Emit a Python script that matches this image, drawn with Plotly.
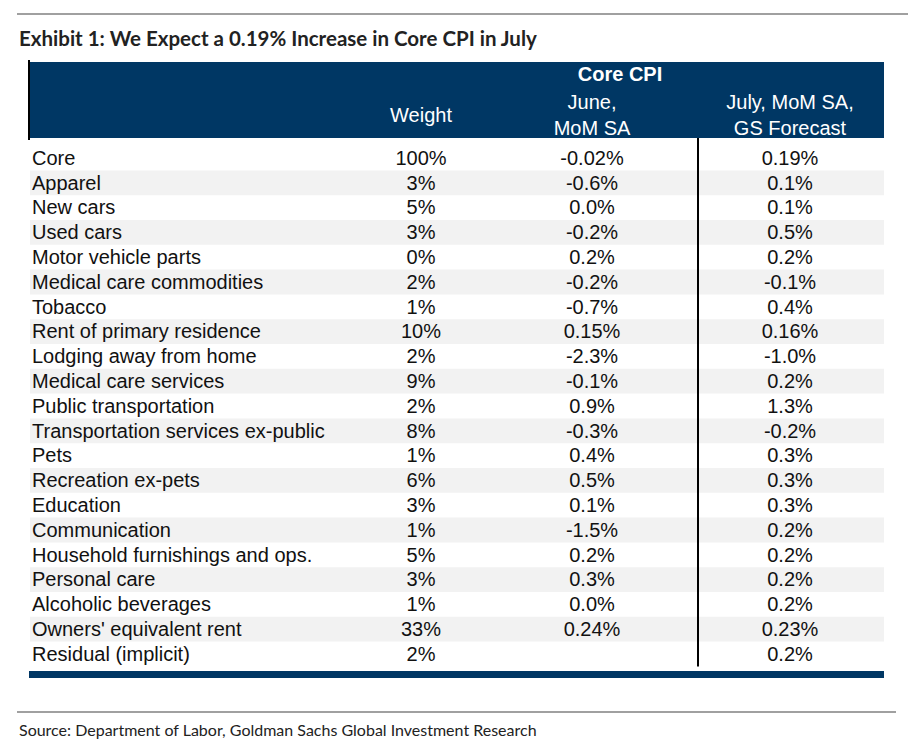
import plotly.graph_objects as go

# Table content
categories = [
    "Core",
    "Apparel",
    "New cars",
    "Used cars",
    "Motor vehicle parts",
    "Medical care commodities",
    "Tobacco",
    "Rent of primary residence",
    "Lodging away from home",
    "Medical care services",
    "Public transportation",
    "Transportation services ex-public",
    "Pets",
    "Recreation ex-pets",
    "Education",
    "Communication",
    "Household furnishings and ops.",
    "Personal care",
    "Alcoholic beverages",
    "Owners' equivalent rent",
    "Residual (implicit)",
]
weights = ["100%", "3%", "5%", "3%", "0%", "2%", "1%", "10%", "2%", "9%", "2%",
           "8%", "1%", "6%", "3%", "1%", "5%", "3%", "1%", "33%", "2%"]
june_mom = ["-0.02%", "-0.6%", "0.0%", "-0.2%", "0.2%", "-0.2%", "-0.7%", "0.15%",
            "-2.3%", "-0.1%", "0.9%", "-0.3%", "0.4%", "0.5%", "0.1%", "-1.5%",
            "0.2%", "0.3%", "0.0%", "0.24%", ""]
july_forecast = ["0.19%", "0.1%", "0.1%", "0.5%", "0.2%", "-0.1%", "0.4%", "0.16%",
                 "-1.0%", "0.2%", "1.3%", "-0.2%", "0.3%", "0.3%", "0.3%", "0.2%",
                 "0.2%", "0.2%", "0.2%", "0.23%", "0.2%"]

group_header = "Core CPI"
col_headers = ["Weight", "June,<br>MoM SA", "July, MoM SA,<br>GS Forecast"]

TITLE = "Exhibit 1: We Expect a 0.19% Increase in Core CPI in July"
SOURCE = "Source: Department of Labor, Goldman Sachs Global Investment Research"

# Layout constants. The page body has an 8px margin, so the figure is made
# smaller by that much and the x axis is set up in page pixels.
PAGE_W, PAGE_H = 919, 749
PAD = 8
W, H = PAGE_W - PAD, PAGE_H - PAD
FIRST_ROW_PX = 158
ROW_PX = 24.8
TABLE_LEFT, TABLE_RIGHT = 29, 884
LABEL_X = 32
WEIGHT_X, JUNE_X, JULY_X = 421, 592, 790
DIVIDER_X = 698
TEXT_NUDGE = 0.07  # text baseline sits a touch low in its row

NAVY = "#003764"
STRIPE = "#f2f2f2"
RULE = "#808080"
BODY_FONT = "Liberation Sans, Arial, sans-serif"
TITLE_FONT = "Lato, sans-serif"
FS = 20

rows = list(range(len(categories)))
n_rows = len(rows)
text_rows = [r + TEXT_NUDGE for r in rows]


def px_to_row(px):
    return (px - FIRST_ROW_PX) / ROW_PX


def px_to_paper(px):
    return 1 - (px - PAD) / H


fig = go.Figure()

# body text columns
fig.add_trace(go.Scatter(
    x=[LABEL_X] * n_rows, y=text_rows, text=categories, mode="text",
    textposition="middle right", textfont=dict(family=BODY_FONT, size=FS, color="#111"),
    hoverinfo="skip",
))
for cx, values in [(WEIGHT_X, weights), (JUNE_X, june_mom), (JULY_X, july_forecast)]:
    fig.add_trace(go.Scatter(
        x=[cx] * n_rows, y=text_rows, text=values, mode="text",
        textposition="middle center", textfont=dict(family=BODY_FONT, size=FS, color="#111"),
        hoverinfo="skip",
    ))

# header text
header_row = px_to_row(117)
fig.add_trace(go.Scatter(
    x=[WEIGHT_X, JUNE_X, JULY_X], y=[header_row] * 3, text=col_headers, mode="text",
    textposition="middle center", textfont=dict(family=BODY_FONT, size=FS, color="white"),
    hoverinfo="skip",
))
fig.add_trace(go.Scatter(
    x=[620], y=[px_to_row(76)], text=[f"<b>{group_header}</b>"], mode="text",
    textposition="middle center", textfont=dict(family=BODY_FONT, size=FS, color="white"),
    hoverinfo="skip",
))

shapes = []
# zebra stripes on odd rows
for r in rows:
    if r % 2 == 1:
        shapes.append(dict(type="rect", xref="x", yref="y", x0=TABLE_LEFT + 1, x1=TABLE_RIGHT,
                           y0=r - 0.5, y1=r + 0.5, fillcolor=STRIPE, line_width=0, layer="below"))
# header band
shapes.append(dict(type="rect", xref="x", yref="y", x0=TABLE_LEFT, x1=TABLE_RIGHT,
                   y0=px_to_row(62), y1=px_to_row(138), fillcolor=NAVY, line_width=0, layer="below"))
# left edge of header
shapes.append(dict(type="line", xref="x", yref="y", x0=TABLE_LEFT, x1=TABLE_LEFT,
                   y0=px_to_row(60), y1=px_to_row(140), line=dict(color="black", width=2)))
# divider before forecast column
shapes.append(dict(type="line", xref="x", yref="y", x0=DIVIDER_X, x1=DIVIDER_X,
                   y0=px_to_row(138), y1=n_rows - 0.5, line=dict(color="black", width=2)))
# bottom navy bar
shapes.append(dict(type="rect", xref="x", yref="y", x0=TABLE_LEFT, x1=TABLE_RIGHT,
                   y0=px_to_row(671), y1=px_to_row(678), fillcolor=NAVY, line_width=0))
# grey rules
shapes.append(dict(type="line", xref="x", yref="paper", x0=17, x1=908,
                   y0=px_to_paper(14), y1=px_to_paper(14), line=dict(color=RULE, width=1.5)))
shapes.append(dict(type="line", xref="x", yref="paper", x0=17, x1=896,
                   y0=px_to_paper(712), y1=px_to_paper(712), line=dict(color=RULE, width=1.5)))

annotations = [
    dict(text=f"<b>{TITLE}</b>", xref="x", yref="paper", x=17, y=px_to_paper(38),
         xanchor="left", yanchor="middle", showarrow=False,
         font=dict(family=TITLE_FONT, size=20.5, color="#222")),
    dict(text=SOURCE, xref="x", yref="paper", x=17, y=px_to_paper(729),
         xanchor="left", yanchor="middle", showarrow=False,
         font=dict(family=TITLE_FONT, size=16, color="#222")),
]

fig.update_layout(
    width=W, height=H,
    margin=dict(l=0, r=0, t=0, b=0),
    paper_bgcolor="white", plot_bgcolor="white",
    showlegend=False,
    shapes=shapes,
    annotations=annotations,
    xaxis=dict(range=[PAD, PAGE_W], visible=False, fixedrange=True),
    yaxis=dict(range=[px_to_row(PAGE_H), px_to_row(PAD)], visible=False, fixedrange=True),
)

fig.write_html("out.html")
